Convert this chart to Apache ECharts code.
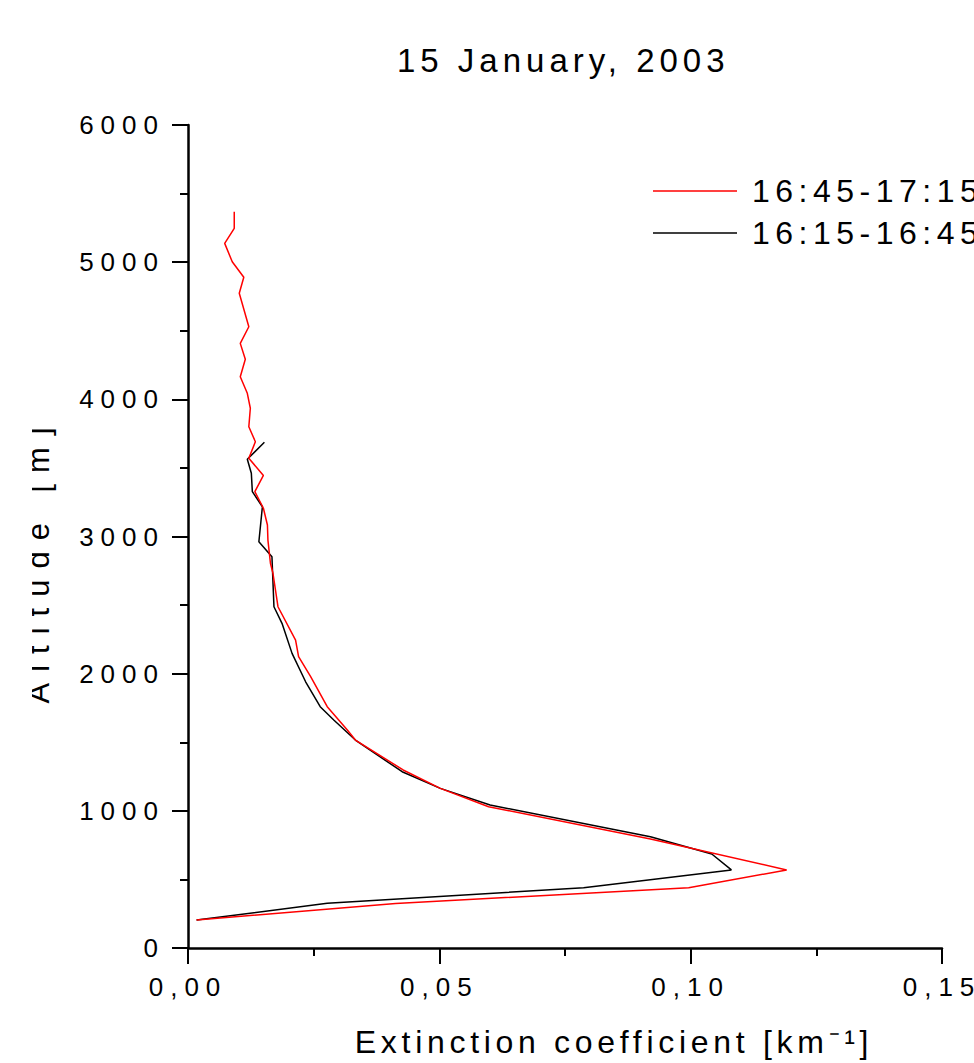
<!DOCTYPE html>
<html>
<head>
<meta charset="utf-8">
<script src="https://cdn.jsdelivr.net/npm/echarts@6/dist/echarts.min.js"></script>
<style>
  html, body { margin: 0; padding: 0; background: #fff; }
  #chart { width: 974px; height: 1063px; }
</style>
</head>
<body>
<div id="chart"></div>
<script>
// 16:45-17:15 profile (red)
const redExtinction = [0.0092, 0.0092, 0.0073, 0.0088, 0.0111, 0.0102, 0.0121, 0.0104, 0.0114, 0.0104,
  0.0118, 0.0124, 0.0121, 0.0134, 0.0121, 0.0150, 0.0133, 0.0150, 0.0158, 0.0159,
  0.0164, 0.0169, 0.0179, 0.0214, 0.0220, 0.0244, 0.0277, 0.0317, 0.0333, 0.0428,
  0.0502, 0.0598, 0.0920, 0.1191, 0.0996, 0.0413, 0.0017]
const redAltitude = [5368, 5247, 5137, 5003, 4890, 4773, 4529, 4408, 4292, 4165,
  4044, 3935, 3800, 3691, 3570, 3445, 3327, 3206, 3084, 2974,
  2805, 2732, 2488, 2245, 2124, 1978, 1759, 1589, 1516, 1298,
  1164, 1030, 795, 569, 440, 324, 204]

// 16:15-16:45 profile (black)
const blackExtinction = [0.0152, 0.0118, 0.0126, 0.0128, 0.0148, 0.0141, 0.0167, 0.0171, 0.0187, 0.0207,
  0.0234, 0.0263, 0.0290, 0.0333, 0.0426, 0.0502, 0.0601, 0.0920, 0.1042, 0.1081,
  0.0787, 0.0277, 0.0017]
const blackAltitude = [3687, 3563, 3461, 3327, 3217, 2962, 2853, 2488, 2367, 2148,
  1941, 1759, 1662, 1516, 1285, 1164, 1042, 811, 685, 569,
  440, 326, 204]

const seriesNames = ['16:45-17:15', '16:15-16:45']
const xTicks = { min: 0, max: 0.15, interval: 0.05 }
const yTicks = { min: 0, max: 6000, interval: 1000 }

const FONT = 'Liberation Sans'

function pairs(xs, ys) {
  return xs.map((x, i) => [x, ys[i]])
}

const chart = echarts.init(document.getElementById('chart'), null, { renderer: 'svg' })

const axisCommon = {
  axisLine: { show: true, onZero: false, lineStyle: { color: '#000', width: 2.5 } },
  axisTick: { show: true, inside: false, length: 16, lineStyle: { color: '#000', width: 2 } },
  minorTick: { show: true, splitNumber: 2, length: 8, lineStyle: { color: '#000', width: 2 } },
  splitLine: { show: false },
  minorSplitLine: { show: false }
}

chart.setOption({
  animation: false,
  backgroundColor: '#fff',
  title: {
    text: '15 January, 2003',
    left: 397,
    top: 44,
    padding: 0,
    textStyle: { fontFamily: FONT, fontSize: 33, fontWeight: 'normal', color: '#000' }
  },
  legend: {
    orient: 'vertical',
    left: 653,
    top: 175,
    padding: 0,
    icon: 'rect',
    itemWidth: 84,
    itemHeight: 1.6,
    itemGap: 10,
    data: seriesNames,
    textStyle: { fontFamily: FONT, fontSize: 32, color: '#000', padding: [0, 0, 0, 10] }
  },
  grid: { left: 188, right: 32, top: 125, bottom: 115, containLabel: false },
  xAxis: Object.assign({
    type: 'value',
    min: xTicks.min,
    max: xTicks.max,
    interval: xTicks.interval,
    name: 'Extinction coefficient [km\u207B\u00B9]',
    nameLocation: 'middle',
    nameGap: 78,
    nameTextStyle: { fontFamily: FONT, fontSize: 32, color: '#000', padding: [0, 0, 0, 98] },
    axisLabel: {
      margin: 26,
      fontFamily: FONT,
      fontSize: 26,
      color: '#000',
      formatter: v => v.toFixed(2).replace('.', ',')
    }
  }, axisCommon),
  yAxis: Object.assign({
    type: 'value',
    min: yTicks.min,
    max: yTicks.max,
    interval: yTicks.interval,
    name: 'Altitude [m]',
    nameLocation: 'middle',
    nameGap: 134,
    nameRotate: 90,
    nameTextStyle: { fontFamily: FONT, fontSize: 31, color: '#000', padding: [0, 47, 0, 0] },
    axisLabel: {
      margin: 23,
      fontFamily: FONT,
      fontSize: 26,
      color: '#000',
      formatter: v => String(v)
    }
  }, axisCommon),
  graphic: [{
    type: 'rect',
    left: 0,
    top: 380,
    z: 100,
    shape: { width: 32, height: 360 },
    style: { fill: '#fff' }
  }],
  series: [
    {
      name: seriesNames[0],
      type: 'line',
      symbol: 'none',
      color: '#ff0000',
      lineStyle: { color: '#ff0000', width: 1.5 },
      data: pairs(redExtinction, redAltitude),
      z: 3
    },
    {
      name: seriesNames[1],
      type: 'line',
      symbol: 'none',
      color: '#000',
      lineStyle: { color: '#000', width: 1.5 },
      data: pairs(blackExtinction, blackAltitude),
      z: 2
    }
  ]
})

// the original plot uses widely spaced lettering
const spacing = { 26: '7px', 31: '11px', 32: '5.5px', 33: '5px' }
function spreadLetters() {
  document.querySelectorAll('#chart text').forEach(el => {
    const size = Math.round(parseFloat(getComputedStyle(el).fontSize))
    let s = spacing[size]
    if (el.textContent.indexOf('Extinction') === 0) s = '4.7px'
    if (s) el.style.letterSpacing = s
  })
}
chart.on('finished', spreadLetters)
setTimeout(spreadLetters, 50)
</script>
</body>
</html>
